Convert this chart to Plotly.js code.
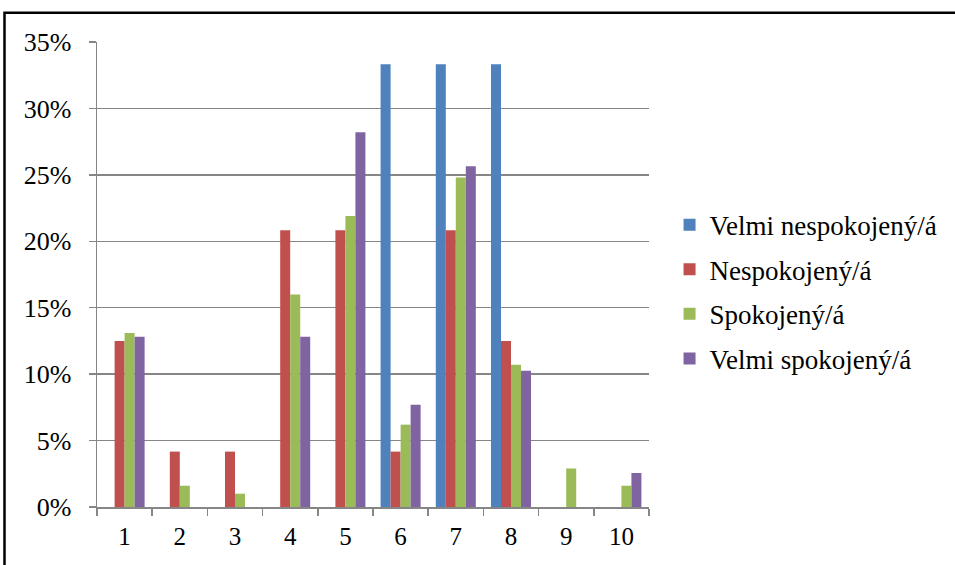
<!DOCTYPE html>
<html>
<head>
<meta charset="utf-8">
<script src="https://cdn.plot.ly/plotly-3.0.1.min.js"></script>
<style>
html,body{margin:0;padding:0;background:#fff;}
#chart{width:955px;height:565px;}
</style>
</head>
<body>
<div id="chart"></div>
<script>
const categories = ['1','2','3','4','5','6','7','8','9','10'];
const seriesNames = ['Velmi nespokojený/á','Nespokojený/á','Spokojený/á','Velmi spokojený/á'];
const veryDissatisfied = [0, 0, 0, 0, 0, 33.33, 33.33, 33.33, 0, 0];
const dissatisfied     = [12.5, 4.17, 4.17, 20.83, 20.83, 4.17, 20.83, 12.5, 0, 0];
const satisfied        = [13.1, 1.6, 1.0, 16.0, 21.9, 6.2, 24.8, 10.7, 2.9, 1.6];
const verySatisfied    = [12.82, 0, 0, 12.82, 28.21, 7.69, 25.64, 10.26, 0, 2.56];
const colors = ['#4F81BD','#C0504D','#9BBB59','#8064A2'];
const yTickVals = [0,5,10,15,20,25,30,35];

const allSeries = [veryDissatisfied, dissatisfied, satisfied, verySatisfied];
const FONT = 'Liberation Serif, Times New Roman, serif';

const traces = allSeries.map((vals, i) => ({
  type: 'bar',
  x: categories,
  y: vals,
  name: seriesNames[i],
  legendgroup: 'g' + i,
  marker: {color: colors[i], line: {width: 0}},
  hoverinfo: 'skip'
}));

const L = 97, R = 306, T = 42, B = 57.5;
const pw = 955 - L - R, ph = 565 - T - B;

const layout = {
  width: 955, height: 565,
  margin: {l: L, r: R, t: T, b: B, pad: 0},
  paper_bgcolor: '#ffffff',
  plot_bgcolor: '#ffffff',
  font: {family: FONT, size: 25, color: '#000'},
  barmode: 'group',
  bargap: 0.275,
  bargroupgap: 0,
  showlegend: true,
  legend: {
    xref: 'container', yref: 'container',
    x: 0.7011, xanchor: 'left',
    y: 0.4839, yanchor: 'middle',
    font: {family: FONT, size: 27, color: '#000'},
    traceorder: 'grouped',
    tracegroupgap: 6.5,
    bgcolor: 'rgba(0,0,0,0)'
  },
  xaxis: {
    type: 'category',
    showgrid: false,
    zeroline: false,
    showline: true,
    linecolor: '#868686',
    linewidth: 1.5,
    ticks: 'outside',
    tickson: 'boundaries',
    ticklen: 7,
    tickwidth: 1.5,
    tickcolor: '#868686',
    tickfont: {family: FONT, size: 25, color: '#000'},
    ticklabelstandoff: 6
  },
  yaxis: {
    range: [0, 35],
    tickvals: yTickVals,
    ticktext: yTickVals.map(v => v + '%'),
    showgrid: true,
    gridcolor: '#868686',
    gridwidth: 1.5,
    zeroline: false,
    showline: true,
    linecolor: '#868686',
    linewidth: 1.5,
    ticks: 'outside',
    ticklen: 7,
    tickwidth: 1.5,
    tickcolor: '#868686',
    tickfont: {family: FONT, size: 26, color: '#000'},
    ticklabelstandoff: 12
  },
  shapes: [{
    type: 'rect', xref: 'paper', yref: 'paper',
    x0: (4.5 - L) / pw, x1: (965 - L) / pw,
    y0: (565 - B - 580) / ph, y1: (565 - B - 12.7) / ph,
    line: {color: '#000', width: 2.5},
    fillcolor: 'rgba(0,0,0,0)'
  }]
};

Plotly.newPlot('chart', traces, layout, {staticPlot: true, displayModeBar: false});
</script>
</body>
</html>
